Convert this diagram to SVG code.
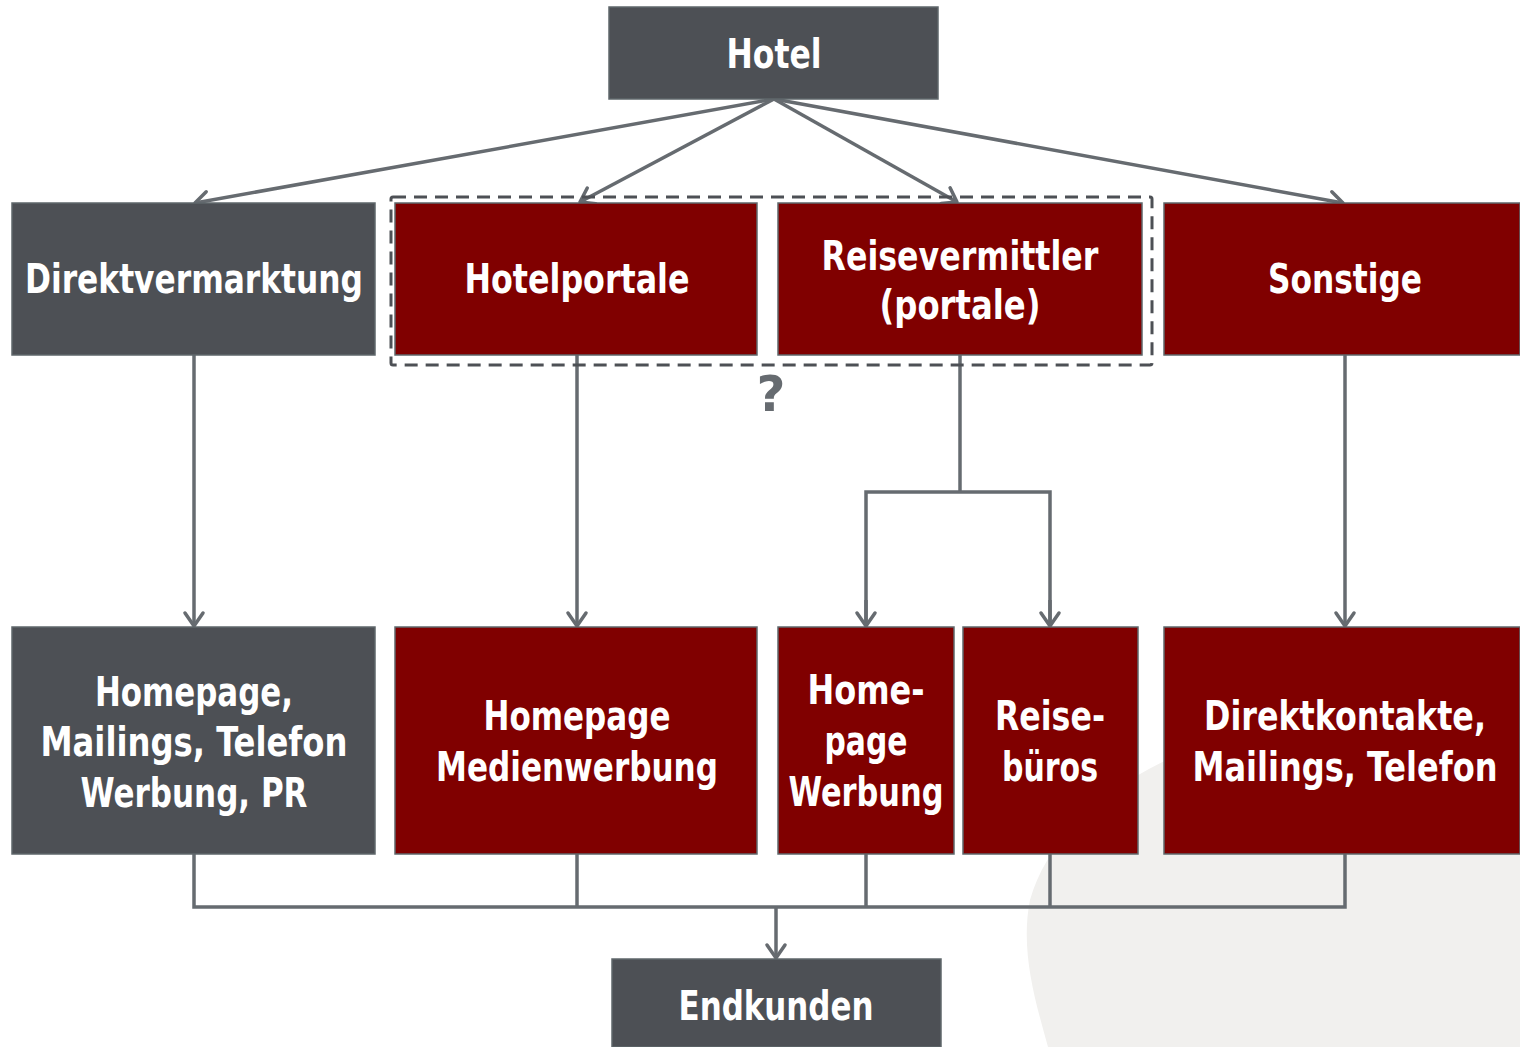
<svg xmlns="http://www.w3.org/2000/svg" width="1520" height="1047" viewBox="0 0 1520 1047">
<defs>
<style>
.gray{fill:#4d5055;stroke:#5f676b;stroke-width:1.5}
.red{fill:#800000;stroke:#5f676b;stroke-width:1.5}
.t{font-family:"DejaVu Sans Condensed","DejaVu Sans","Liberation Sans",sans-serif;font-weight:bold;font-size:40px;fill:#ffffff;text-anchor:middle}
.q{font-family:"DejaVu Sans","Liberation Sans",sans-serif;font-weight:bold;font-size:50px;fill:#666b70;text-anchor:middle}
.c{fill:none;stroke:#666b70;stroke-width:3.5;stroke-linejoin:miter}
.dash{fill:none;stroke:#4d5055;stroke-width:3;stroke-dasharray:13 8}
</style>
<marker id="arr" markerUnits="userSpaceOnUse" markerWidth="34" markerHeight="34" viewBox="-17 -17 34 34" refX="0" refY="0" orient="auto">
<path d="M -13,-9 L 0,0 L -13,9" fill="none" stroke="#666b70" stroke-width="3.5" stroke-linecap="round" stroke-linejoin="round"/>
</marker>
</defs>
<rect width="1520" height="1047" fill="#ffffff"/>
<path d="M 1230,735 C 1120,770 1050,830 1030,900 C 1020,950 1035,1000 1048,1047 L 1520,1047 L 1520,735 Z" fill="#f1f0ee"/>

<g id="connectors">
<line class="c" x1="774" y1="99" x2="195" y2="203" marker-end="url(#arr)"/>
<line class="c" x1="774" y1="99" x2="580" y2="202" marker-end="url(#arr)"/>
<line class="c" x1="774" y1="99" x2="957" y2="202" marker-end="url(#arr)"/>
<line class="c" x1="774" y1="99" x2="1343" y2="203" marker-end="url(#arr)"/>
<line class="c" x1="194" y1="355" x2="194" y2="626" marker-end="url(#arr)"/>
<line class="c" x1="577" y1="355" x2="577" y2="626" marker-end="url(#arr)"/>
<path class="c" d="M 960,355 L 960,492"/>
<path class="c" d="M 866,626 L 866,492 L 1050,492 L 1050,626"/>
<line class="c" x1="866" y1="600" x2="866" y2="626" marker-end="url(#arr)"/>
<line class="c" x1="1050" y1="600" x2="1050" y2="626" marker-end="url(#arr)"/>
<line class="c" x1="1345" y1="355" x2="1345" y2="626" marker-end="url(#arr)"/>
<path class="c" d="M 194,854 L 194,907 L 1345,907 L 1345,854"/>
<line class="c" x1="577" y1="854" x2="577" y2="907"/>
<line class="c" x1="866" y1="854" x2="866" y2="907"/>
<line class="c" x1="1050" y1="854" x2="1050" y2="907"/>
<line class="c" x1="776" y1="907" x2="776" y2="958" marker-end="url(#arr)"/>
</g>

<g id="group-portale">
<rect class="dash" x="391" y="197" width="761" height="168" rx="2"/>
<text class="q" x="771" y="411">?</text>
</g>

<g id="hotel">
<rect class="gray" x="609" y="7" width="329" height="92"/>
<text class="t" x="774" y="68" textLength="95" lengthAdjust="spacingAndGlyphs">Hotel</text>
</g>
<g id="direktvermarktung">
<rect class="gray" x="12" y="203" width="363" height="152"/>
<text class="t" x="194" y="293" textLength="338" lengthAdjust="spacingAndGlyphs">Direktvermarktung</text>
</g>
<g id="hotelportale">
<rect class="red" x="395" y="203" width="362" height="152"/>
<text class="t" x="577" y="293" textLength="225" lengthAdjust="spacingAndGlyphs">Hotelportale</text>
</g>
<g id="reisevermittler">
<rect class="red" x="778" y="203" width="364" height="152"/>
<text class="t" x="960" y="270" textLength="277" lengthAdjust="spacingAndGlyphs">Reisevermittler</text>
<text class="t" x="960" y="319" textLength="161" lengthAdjust="spacingAndGlyphs">(portale)</text>
</g>
<g id="sonstige">
<rect class="red" x="1164" y="203" width="356" height="152"/>
<text class="t" x="1345" y="293" textLength="154" lengthAdjust="spacingAndGlyphs">Sonstige</text>
</g>

<g id="direkt-kanaele">
<rect class="gray" x="12" y="627" width="363" height="227"/>
<text class="t" x="194" y="706" textLength="198" lengthAdjust="spacingAndGlyphs">Homepage,</text>
<text class="t" x="194" y="756" textLength="307" lengthAdjust="spacingAndGlyphs">Mailings, Telefon</text>
<text class="t" x="194" y="807" textLength="227" lengthAdjust="spacingAndGlyphs">Werbung, PR</text>
</g>
<g id="portal-kanaele">
<rect class="red" x="395" y="627" width="362" height="227"/>
<text class="t" x="577" y="730" textLength="187" lengthAdjust="spacingAndGlyphs">Homepage</text>
<text class="t" x="577" y="781" textLength="282" lengthAdjust="spacingAndGlyphs">Medienwerbung</text>
</g>
<g id="homepage-werbung">
<rect class="red" x="778" y="627" width="176" height="227"/>
<text class="t" x="866" y="704" textLength="117" lengthAdjust="spacingAndGlyphs">Home-</text>
<text class="t" x="866" y="755" textLength="83" lengthAdjust="spacingAndGlyphs">page</text>
<text class="t" x="866" y="806" textLength="155" lengthAdjust="spacingAndGlyphs">Werbung</text>
</g>
<g id="reisebueros">
<rect class="red" x="963" y="627" width="175" height="227"/>
<text class="t" x="1050" y="730" textLength="110" lengthAdjust="spacingAndGlyphs">Reise-</text>
<text class="t" x="1050" y="781" textLength="96" lengthAdjust="spacingAndGlyphs">büros</text>
</g>
<g id="direktkontakte">
<rect class="red" x="1164" y="627" width="356" height="227"/>
<text class="t" x="1345" y="730" textLength="282" lengthAdjust="spacingAndGlyphs">Direktkontakte,</text>
<text class="t" x="1345" y="781" textLength="305" lengthAdjust="spacingAndGlyphs">Mailings, Telefon</text>
</g>
<g id="endkunden">
<rect class="gray" x="612" y="959" width="329" height="88"/>
<text class="t" x="776" y="1020" textLength="195" lengthAdjust="spacingAndGlyphs">Endkunden</text>
</g>
</svg>
